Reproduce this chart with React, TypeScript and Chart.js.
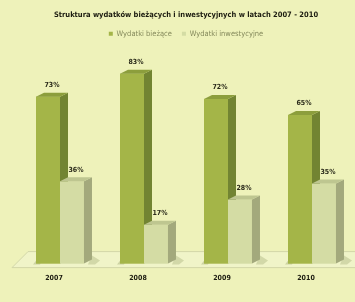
import React, { useEffect, useRef } from "react";
import { Chart, registerables } from "chart.js";

Chart.register(...registerables);

const categories = ["2007", "2008", "2009", "2010"];
const biezace = [73, 83, 72, 65];
const inwestycyjne = [36, 17, 28, 35];
const seriesNames = ["Wydatki bieżące", "Wydatki inwestycyjne"];
const titleText = "Struktura wydatków bieżących i inwestycyjnych w latach 2007 - 2010";

const FONT = "'Liberation Sans Narrow', 'DejaVu Sans Condensed', 'Liberation Sans', sans-serif";
const BG = "#eef2ba";
const DX = 8;
const DY = -4;

const faceColors = [
  { front: "#a4b548", side: "#728432", top: "#8c9e3c" },
  { front: "#d4dca4", side: "#a3a97c", top: "#bec690" },
];

function drawBar(ctx: any, bar: any, col: any) {
  const l = bar.x - bar.width / 2;
  const r = bar.x + bar.width / 2;
  const t = bar.y;
  const bs = bar.base;
  ctx.fillStyle = col.front;
  ctx.fillRect(l, t, r - l, bs - t);
  ctx.beginPath();
  ctx.moveTo(r, t);
  ctx.lineTo(r + DX, t + DY);
  ctx.lineTo(r + DX, bs + DY);
  ctx.lineTo(r, bs);
  ctx.closePath();
  ctx.fillStyle = col.side;
  ctx.fill();
  ctx.beginPath();
  ctx.moveTo(l, t);
  ctx.lineTo(l + DX, t + DY);
  ctx.lineTo(r + DX, t + DY);
  ctx.lineTo(r, t);
  ctx.closePath();
  ctx.fillStyle = col.top;
  ctx.fill();
}

const threeD = {
  id: "threeD",
  beforeDraw(chart: any) {
    const { ctx, width, height } = chart;
    ctx.save();
    ctx.fillStyle = BG;
    ctx.fillRect(0, 0, width, height);
    ctx.restore();
  },
  beforeDatasetsDraw(chart: any) {
    const { ctx, chartArea } = chart;
    const b = chartArea.bottom;
    ctx.save();
    ctx.beginPath();
    ctx.moveTo(12, b + 4);
    ctx.lineTo(chart.width + 20, b + 4);
    ctx.lineTo(chart.width + 35, b - 12);
    ctx.lineTo(28, b - 12);
    ctx.closePath();
    ctx.fillStyle = "#f0f4c8";
    ctx.fill();
    ctx.strokeStyle = "#d2d7a8";
    ctx.lineWidth = 1;
    ctx.stroke();
    chart.getDatasetMeta(1).data.forEach((bar: any) => {
      const r = bar.x + bar.width / 2 + DX;
      ctx.beginPath();
      ctx.moveTo(r, bar.base + DY - 4);
      ctx.lineTo(r + 8, bar.base - 3);
      ctx.lineTo(r + 3, bar.base + 1);
      ctx.lineTo(r - 4, bar.base + 1);
      ctx.closePath();
      ctx.fillStyle = "rgba(120,130,70,0.25)";
      ctx.fill();
    });
    chart.getDatasetMeta(0).data.forEach((bar: any) => {
      const l = bar.x - bar.width / 2;
      ctx.beginPath();
      ctx.moveTo(l - 3, bar.base + 1);
      ctx.lineTo(l + 1, bar.base - 4);
      ctx.lineTo(l + 6, bar.base - 4);
      ctx.lineTo(l + 4, bar.base + 1);
      ctx.closePath();
      ctx.fillStyle = "rgba(100,110,50,0.25)";
      ctx.fill();
    });
    ctx.restore();
  },
  afterDatasetsDraw(chart: any) {
    const { ctx } = chart;
    ctx.save();
    const m0 = chart.getDatasetMeta(0).data;
    const m1 = chart.getDatasetMeta(1).data;
    m0.forEach((bar: any, j: number) => {
      drawBar(ctx, bar, faceColors[0]);
      if (m1[j]) drawBar(ctx, m1[j], faceColors[1]);
    });
    ctx.font = `bold 7px ${FONT}`;
    ctx.fillStyle = "#2a2a1a";
    ctx.textAlign = "center";
    ctx.textBaseline = "bottom";
    chart.data.datasets.forEach((ds: any, i: number) => {
      chart.getDatasetMeta(i).data.forEach((bar: any, j: number) => {
        ctx.fillText(ds.data[j] + "%", bar.x + DX / 2, bar.y + DY - 4);
      });
    });
    ctx.restore();
  },
};

export default function App() {
  const ref = useRef<HTMLCanvasElement>(null);
  useEffect(() => {
    if (!ref.current) return;
    const chart = new Chart(ref.current, {
      type: "bar",
      data: {
        labels: categories,
        datasets: [
          {
            label: seriesNames[0],
            data: biezace,
            backgroundColor: faceColors[0].front,
            categoryPercentage: 0.571,
            barPercentage: 1.0,
          },
          {
            label: seriesNames[1],
            data: inwestycyjne,
            backgroundColor: faceColors[1].front,
            categoryPercentage: 0.571,
            barPercentage: 1.0,
          },
        ],
      },
      options: {
        animation: false,
        responsive: false,
        layout: { padding: { left: 18, right: 1, top: 0, bottom: 10 } },
        plugins: {
          title: {
            display: true,
            text: titleText,
            color: "#1c1c10",
            font: { family: FONT, size: 7.5, weight: "bold" },
            padding: { top: 11, bottom: 0 },
          },
          legend: {
            display: true,
            labels: {
              boxWidth: 4,
              boxHeight: 4,
              padding: 10,
              color: "#858a5c",
              font: { family: FONT, size: 7.5 },
            },
          },
          tooltip: { enabled: false },
        },
        scales: {
          x: {
            grid: { display: false, drawTicks: false },
            border: { display: false },
            ticks: {
              color: "#1c1c10",
              font: { family: FONT, size: 7, weight: "bold" },
              padding: 10,
              labelOffset: -6,
            },
          },
          y: {
            display: false,
            min: 0,
            max: 94.5,
          },
        },
      },
      plugins: [threeD],
    });
    return () => chart.destroy();
  }, []);
  return (
    <div style={{ position: "absolute", left: 0, top: 0, width: 355, height: 302 }}>
      <canvas ref={ref} width={355} height={302} style={{ width: 355, height: 302 }} />
    </div>
  );
}
